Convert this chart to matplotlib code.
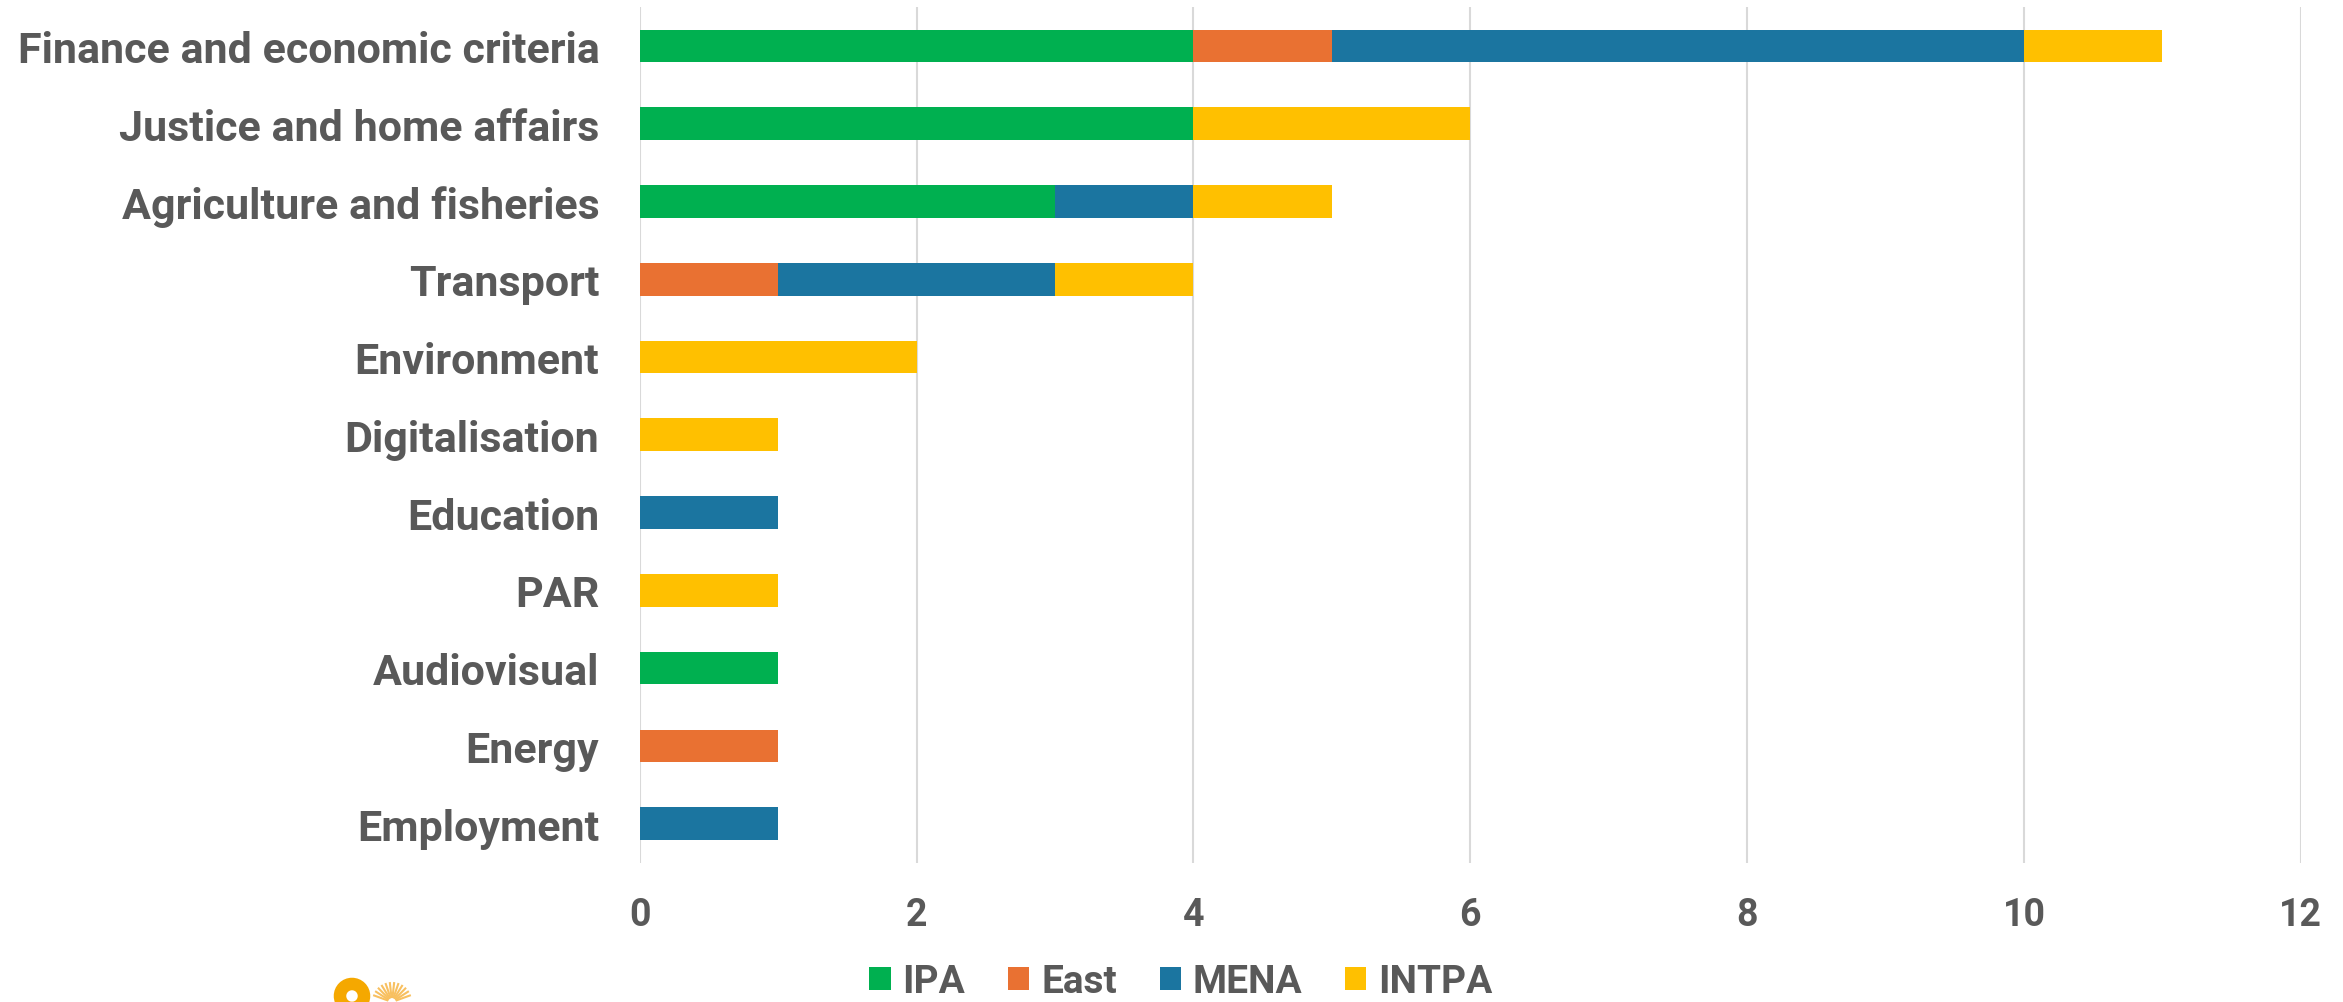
import matplotlib
matplotlib.use("Agg")
import matplotlib.pyplot as plt
import numpy as np
from matplotlib.patches import Circle
from matplotlib.lines import Line2D

# Dane
kategorie = ["Finance and economic criteria", "Justice and home affairs",
             "Agriculture and fisheries", "Transport", "Environment",
             "Digitalisation", "Education", "PAR", "Audiovisual",
             "Energy", "Employment"]
ipa   = [4, 4, 3, 0, 0, 0, 0, 0, 1, 0, 0]
east  = [1, 0, 0, 1, 0, 0, 0, 0, 0, 1, 0]
mena  = [5, 0, 1, 2, 0, 0, 1, 0, 0, 0, 1]
intpa = [1, 2, 1, 1, 2, 1, 0, 1, 0, 0, 0]
serie = ["IPA", "East", "MENA", "INTPA"]
kolory = ["#00B050", "#E97132", "#1B75A0", "#FFC000"]
osie_x = [0, 2, 4, 6, 8, 10, 12]

szary = "#595959"
plt.rcParams['font.family'] = ['Roboto', 'DejaVu Sans']
plt.rcParams['font.weight'] = 'bold'

fig = plt.figure(figsize=(23.43, 10.03), dpi=100)
ax = fig.add_axes([0.273, 0.139, 0.709, 0.853])

y = np.arange(len(kategorie))
lewo = np.zeros(len(kategorie))
for nazwa, wart, kol in zip(serie, [ipa, east, mena, intpa], kolory):
    wart = np.array(wart, dtype=float)
    ax.barh(y, wart, left=lewo, height=0.42, color=kol, label=nazwa, zorder=3)
    lewo += wart

ax.set_ylim(len(kategorie) - 0.5, -0.5)
ax.set_xlim(0, 12)
ax.set_xticks(osie_x)
ax.set_yticks(y)
ax.set_yticklabels(kategorie)
ax.grid(axis='x', color='#D9D9D9', linewidth=1.5, zorder=0)
for s in ax.spines.values():
    s.set_visible(False)
ax.tick_params(axis='y', length=0, pad=29, labelsize=31, labelcolor=szary)
ax.tick_params(axis='x', length=0, pad=24, labelsize=27, labelcolor=szary)

fig.legend(loc='center', bbox_to_anchor=(0.504, 0.02), ncol=4, frameon=False,
           fontsize=28, labelcolor=szary, handlelength=0.55, handleheight=0.55,
           handletextpad=0.3, columnspacing=1.1, borderpad=0)

# fragment logo w lewym dolnym rogu (uciety)
fig.patches.append(Circle((352, 6), 12, transform=None, color='#F5A800',
                          fill=False, linewidth=9, zorder=5))
for kat in np.linspace(20, 160, 12):
    r = np.deg2rad(kat)
    fig.lines.append(Line2D([392 + 5 * np.cos(r), 392 + 19 * np.cos(r)],
                            [0 + 5 * np.sin(r), 0 + 19 * np.sin(r)],
                            transform=None, color='#F8C060', linewidth=1.5))

fig.savefig("out.png", dpi=100)
